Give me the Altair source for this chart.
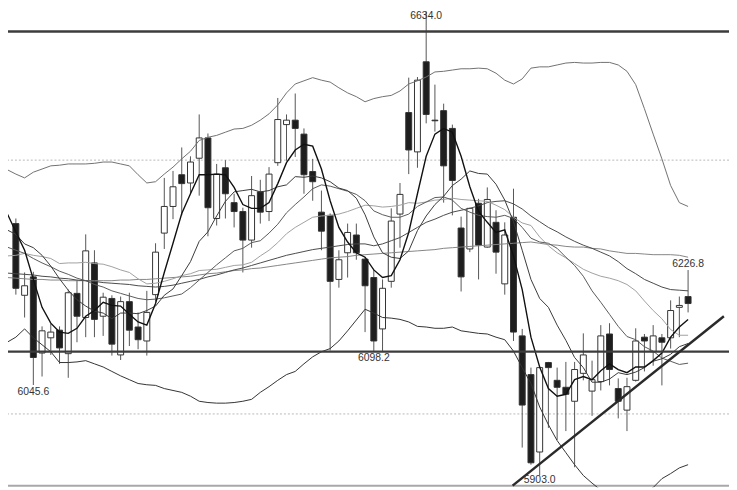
import altair as alt
import pandas as pd

# ---- candle data (index, OHLC) ----
opens = [6300,6187,6216,6096,6120,6132,6095,6190,6152,6238,6154,6182,6093,6177,6137,6115,6188,6285,6327,6377,
         6364,6403,6435,6308,6388,6333,6319,6274,6350,6319,6396,6456,6463,6441,6382,6318,6313,6212,6254,6282,
         6244,6215,6134,6209,6315,6475,6413,6555,6463,6478,6450,6293,6260,6332,6263,6302,6205,6310,6123,6062,
         5940,6081,6053,6042,6020,6064,6036,6051,6126,6040,6006,6053,6121,6098,6120,6120,6168,6185]
highs = [6308,6223,6224,6138,6142,6138,6196,6210,6283,6258,6191,6187,6185,6191,6160,6194,6269,6372,6383,6420,
         6406,6472,6442,6394,6400,6347,6325,6375,6369,6389,6498,6472,6505,6450,6402,6352,6316,6258,6300,6300,
         6247,6227,6212,6324,6364,6530,6531,6634.0,6519,6489,6456,6311,6325,6339,6357,6321,6302,6355,6134,6073,
         6076,6082,6073,6082,6082,6127,6084,6140,6143,6056,6057,6135,6126,6140,6126,6179,6185,6226.8]
lows = [6188,6152,6045.6,6059,6093,6079,6057,6113,6121,6121,6123,6092,6085,6107,6102,6092,6177,6260,6307,6313,
        6347,6344,6280,6297,6308,6294,6223,6262,6300,6304,6391,6399,6405,6347,6336,6258,6100,6199,6215,6243,
        6129,6098.2,6099,6199,6262,6378,6388,6458,6445,6333,6313,6193,6255,6212,6262,6221,6188,6115,5947,5920,
        5903.0,5978,5959,5973,5916,6053,5997,6037,6045,5993,5973,6051,6067,6076,6045,6103,6121,6160]
closes = [6198,6202,6089,6131,6129,6104,6191,6154,6257,6149,6184,6110,6177,6132,6117,6160,6255,6327,6358,6363,
          6397,6435,6325,6378,6347,6319,6274,6344,6318,6378,6464,6463,6450,6377,6366,6288,6209,6243,6286,6254,
          6202,6115,6198,6304,6346,6416,6526,6472,6462,6391,6368,6216,6324,6266,6338,6255,6282,6129,6014,5923,
          6073,6073,6042,6031,6070,6093,6054,6123,6070,6020,6043,6115,6115,6123,6113,6163,6171,6174]

# ---- indicator lines, sampled at candle index -1 .. 77 ----
line_idx = list(range(-1, 78))
ma5 = [6316,6287,6258,6212,6168,6143,6129,6127,6135,6154,
       6163,6176,6171,6170,6157,6145,6140,6174,6223,6269,
       6316,6347,6377,6377,6378,6377,6357,6330,6324,6324,
       6333,6363,6396,6416,6425,6422,6386,6336,6294,6271,
       6254,6247,6227,6215,6218,6243,6286,6347,6406,6441,
       6450,6444,6406,6358,6319,6302,6286,6290,6249,6196,
       6121,6074,6040,6028,6031,6054,6059,6054,6068,6079,
       6070,6065,6074,6074,6084,6096,6121,6137,6149]
ma10 = [6290,6283,6268,6262,6250,6233,6213,6195,6180,6170,
        6162,6159,6150,6159,6159,6158,6163,6170,6187,6197,
        6218,6240,6272,6287,6312,6335,6350,6352,6354,6350,
        6352,6358,6361,6374,6373,6375,6372,6366,6356,6352,
        6340,6314,6279,6254,6247,6245,6257,6289,6312,6330,
        6343,6360,6370,6383,6379,6378,6362,6337,6303,6258,
        6212,6182,6168,6140,6116,6089,6073,6050,6050,6055,
        6065,6062,6066,6073,6083,6087,6094,6106,6111]
ma20 = [6263,6258,6253,6245,6238,6232,6225,6220,6214,6210,
        6204,6200,6194,6190,6186,6182,6180,6181,6183,6186,
        6189,6199,6211,6223,6235,6246,6257,6261,6270,6273,
        6285,6299,6317,6330,6342,6355,6361,6359,6355,6351,
        6346,6336,6320,6314,6310,6310,6315,6327,6334,6341,
        6342,6337,6324,6318,6313,6311,6310,6313,6308,6294,
        6277,6271,6269,6261,6247,6234,6217,6194,6176,6157,
        6138,6122,6117,6106,6099,6088,6083,6078,6080]
ma40 = [6222,6221,6220,6219,6217,6216,6214,6213,6211,6210,
        6209,6207,6206,6205,6204,6202,6201,6200,6201,6203,
        6206,6209,6212,6216,6219,6223,6227,6230,6234,6238,
        6242,6246,6250,6253,6256,6259,6261,6263,6265,6267,
        6268,6268,6265,6268,6273,6278,6286,6294,6302,6307,
        6313,6318,6321,6324,6328,6333,6335,6336,6331,6323,
        6312,6303,6294,6287,6279,6272,6266,6261,6255,6249,
        6240,6229,6221,6212,6206,6200,6196,6195,6194]
ma60 = [6215,6214,6213,6212,6212,6211,6211,6210,6210,6210,
        6210,6210,6210,6211,6211,6212,6212,6213,6214,6215,
        6216,6217,6219,6221,6222,6224,6226,6227,6229,6230,
        6232,6234,6236,6238,6240,6242,6244,6246,6247,6248,
        6250,6251,6252,6253,6254,6255,6256,6257,6258,6259,
        6261,6262,6263,6264,6265,6266,6267,6268,6269,6270,
        6271,6269,6267,6266,6264,6263,6263,6261,6260,6257,
        6255,6253,6253,6252,6251,6251,6251,6250,6247]
boll_mid = [6249,6250,6253,6250,6248,6245,6237,6238,6238,6239,
            6237,6236,6232,6227,6223,6213,6205,6206,6209,6213,
            6218,6221,6226,6227,6228,6231,6234,6235,6239,6249,
            6258,6270,6284,6294,6302,6310,6312,6313,6315,6319,
            6324,6329,6328,6326,6327,6329,6333,6332,6334,6337,
            6338,6340,6338,6337,6336,6335,6329,6322,6310,6301,
            6297,6279,6265,6254,6246,6237,6228,6222,6217,6214,
            6210,6204,6194,6178,6163,6150,6133,6124,6124]
band_up = [6385,6378,6372,6381,6386,6391,6392,6394,6394,6394,
           6395,6397,6397,6394,6391,6377,6364,6366,6378,6389,
           6402,6414,6431,6436,6439,6444,6449,6450,6455,6463,
           6473,6487,6506,6520,6525,6530,6526,6523,6514,6506,
           6500,6492,6497,6500,6502,6509,6520,6525,6531,6539,
           6540,6542,6544,6544,6545,6544,6537,6526,6520,6528,
           6545,6547,6547,6550,6553,6554,6553,6553,6554,6554,
           6550,6540,6519,6481,6441,6402,6360,6333,6327]
band_lo = [6113,6121,6134,6120,6109,6098,6081,6081,6082,6084,
           6079,6074,6067,6060,6054,6048,6046,6045,6040,6037,
           6034,6028,6020,6018,6017,6017,6018,6020,6023,6034,
           6043,6053,6062,6067,6079,6090,6098,6103,6115,6131,
           6148,6165,6159,6152,6151,6149,6145,6138,6137,6135,
           6135,6137,6131,6129,6127,6126,6121,6117,6099,6073,
           6048,6011,5983,5958,5939,5920,5903,5891,5880,5873,
           5869,5867,5869,5875,5884,5898,5906,5915,5920]

# ---- levels, trend line, labels ----
levels = [6602.8, 6098.2]
grid_levels = [6400, 6000]
base_level = [5887]
trend_x = [56.9, 81.1]
trend_y = [5887, 6154]
label_idx = [47, 41, 60, 2, 77]
label_val = [6634.0, 6098.2, 5903.0, 6045.6, 6226.8]
label_dy = [4, 6, 5, 7, -6]

n = len(opens)
candles = pd.DataFrame({"i": list(range(n)), "open": opens, "high": highs, "low": lows, "close": closes})
candles["dir"] = ["up" if c >= o else "down" for o, c in zip(opens, closes)]

lines = pd.DataFrame({"i": line_idx, "ma5": ma5, "ma10": ma10, "ma20": ma20, "ma40": ma40,
                      "ma60": ma60, "mid": boll_mid, "up": band_up, "lo": band_lo})

xs = alt.Scale(domain=[-0.335, 81.12], nice=False, zero=False)
ys = alt.Scale(domain=[5884.3, 6635.6], nice=False, zero=False)
X = alt.X("i:Q", scale=xs, axis=None)

base = alt.Chart(candles)
wicks = base.mark_rule(color="#555", strokeWidth=1).encode(
    x=X, y=alt.Y("low:Q", scale=ys, axis=None), y2="high:Q")
bodies = base.mark_bar(size=6, stroke="#333", strokeWidth=1).encode(
    x=X, y=alt.Y("open:Q", scale=ys, axis=None), y2="close:Q",
    fill=alt.Fill("dir:N", scale=alt.Scale(domain=["up", "down"], range=["#ffffff", "#1e1e1e"]), legend=None))

def ln(col, color, w):
    return alt.Chart(lines).mark_line(color=color, strokeWidth=w, clip=True).encode(
        x=X, y=alt.Y(f"{col}:Q", scale=ys, axis=None))

layers_lines = [
    ln("up", "#707070", 1),
    ln("lo", "#333333", 1),
    ln("ma60", "#858585", 1),
    ln("ma40", "#4a4a4a", 1),
    ln("mid", "#a0a0a0", 1),
    ln("ma20", "#5a5a5a", 1),
    ln("ma10", "#3a3a3a", 1),
    ln("ma5", "#111111", 1.4),
]

grid = alt.Chart(pd.DataFrame({"v": grid_levels})).mark_rule(
    color="#b8b8b8", strokeWidth=1, strokeDash=[2, 2]).encode(y=alt.Y("v:Q", scale=ys, axis=None))
lev = alt.Chart(pd.DataFrame({"v": levels})).mark_rule(
    color="#3c3c3c", strokeWidth=2.5).encode(y=alt.Y("v:Q", scale=ys, axis=None))
bline = alt.Chart(pd.DataFrame({"v": base_level})).mark_rule(
    color="#a8a8a8", strokeWidth=2).encode(y=alt.Y("v:Q", scale=ys, axis=None))
trend = alt.Chart(pd.DataFrame({"i": trend_x, "v": trend_y})).mark_line(
    color="#2a2a2a", strokeWidth=2.5, clip=True).encode(x=X, y=alt.Y("v:Q", scale=ys, axis=None))

labels_df = pd.DataFrame({"i": label_idx, "v": label_val, "dy": label_dy,
                          "t": [f"{v:.1f}" for v in label_val]})
labels = alt.layer(*[
    alt.Chart(labels_df.iloc[[k]]).mark_text(
        font="Liberation Sans", fontSize=10.5, color="#333", baseline="middle", align="center",
        dy=float(labels_df["dy"].iloc[k])).encode(
        x=X, y=alt.Y("v:Q", scale=ys, axis=None), text="t:N")
    for k in range(len(labels_df))
])

chart = alt.layer(grid, bline, wicks, bodies, *layers_lines, lev, trend, labels).properties(
    width=729, height=482,
    autosize=alt.AutoSizeParams(type="none"),
    padding=0,
).configure_view(stroke=None)

chart.save("out.html", embed_options={"renderer": "svg", "actions": False})
